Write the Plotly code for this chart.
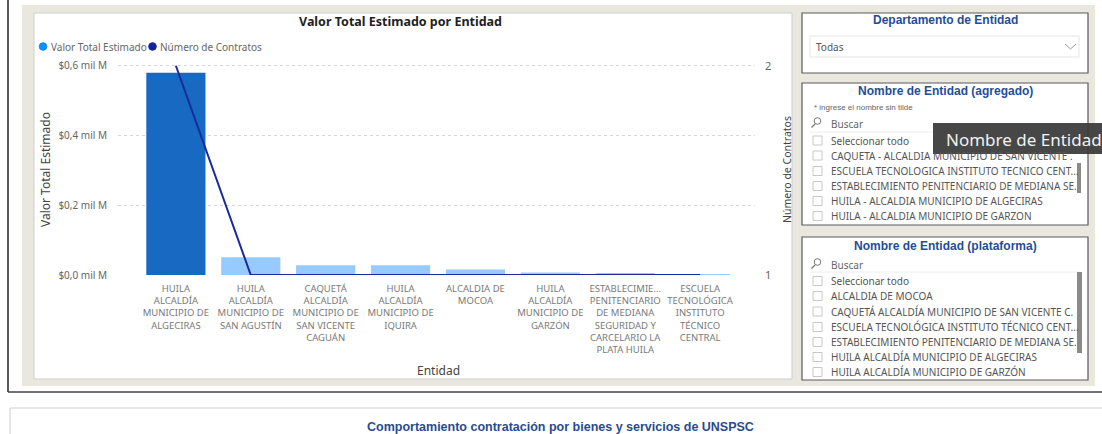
import plotly.graph_objects as go

# ---------------- data ----------------
categories = [
    "HUILA ALCALDÍA MUNICIPIO DE ALGECIRAS",
    "HUILA ALCALDÍA MUNICIPIO DE SAN AGUSTÍN",
    "CAQUETÁ ALCALDÍA MUNICIPIO DE SAN VICENTE CAGUÁN",
    "HUILA ALCALDÍA MUNICIPIO DE IQUIRA",
    "ALCALDIA DE MOCOA",
    "HUILA ALCALDÍA MUNICIPIO DE GARZÓN",
    "ESTABLECIMIENTO PENITENCIARIO DE MEDIANA SEGURIDAD Y CARCELARIO LA PLATA HUILA",
    "ESCUELA TECNOLÓGICA INSTITUTO TÉCNICO CENTRAL",
]
tick_labels = [
    "HUILA<br>ALCALDÍA<br>MUNICIPIO DE<br>ALGECIRAS",
    "HUILA<br>ALCALDÍA<br>MUNICIPIO DE<br>SAN AGUSTÍN",
    "CAQUETÁ<br>ALCALDÍA<br>MUNICIPIO DE<br>SAN VICENTE<br>CAGUÁN",
    "HUILA<br>ALCALDÍA<br>MUNICIPIO DE<br>IQUIRA",
    "ALCALDIA DE<br>MOCOA",
    "HUILA<br>ALCALDÍA<br>MUNICIPIO DE<br>GARZÓN",
    "ESTABLECIMIE...<br>PENITENCIARIO<br>DE MEDIANA<br>SEGURIDAD Y<br>CARCELARIO LA<br>PLATA HUILA",
    "ESCUELA<br>TECNOLÓGICA<br>INSTITUTO<br>TÉCNICO<br>CENTRAL",
]
# Valor total estimado, in millions of pesos
valor_total = [580, 51, 28, 28, 16, 7, 4, 2]
num_contratos = [2, 1, 1, 1, 1, 1, 1, 1]

y_ticks = [0, 200, 400, 600]
y_tick_text = ["$0,0 mil M", "$0,2 mil M", "$0,4 mil M", "$0,6 mil M"]

slicer_agregado = [
    "Seleccionar todo",
    "CAQUETA - ALCALDIA MUNICIPIO DE SAN VICENTE .",
    "ESCUELA TECNOLOGICA INSTITUTO TECNICO CENT...",
    "ESTABLECIMIENTO PENITENCIARIO DE MEDIANA SE.",
    "HUILA - ALCALDIA MUNICIPIO DE ALGECIRAS",
    "HUILA - ALCALDIA MUNICIPIO DE GARZON",
]
slicer_plataforma = [
    "Seleccionar todo",
    "ALCALDIA DE MOCOA",
    "CAQUETÁ ALCALDÍA MUNICIPIO DE SAN VICENTE C.",
    "ESCUELA TECNOLÓGICA INSTITUTO TÉCNICO CENT...",
    "ESTABLECIMIENTO PENITENCIARIO DE MEDIANA SE.",
    "HUILA ALCALDÍA MUNICIPIO DE ALGECIRAS",
    "HUILA ALCALDÍA MUNICIPIO DE GARZÓN",
]

# ---------------- layout geometry (pixels) ----------------
W, H = 1102, 434
L, R, T, B = 118, 755, 64, 275


def px(x):
    return (x - L) / (R - L)


def py(y):
    return (B - y) / (B - T)


FONT = "Segoe UI, Noto Sans, Open Sans, sans-serif"
ARIAL = "Liberation Sans, Arial, sans-serif"

bar_colors = ["#1769C1"] + ["#97CBFF"] * (len(categories) - 1)

fig = go.Figure()
fig.add_trace(go.Bar(
    x=categories, y=valor_total, name="Valor Total Estimado",
    marker=dict(color=bar_colors, line=dict(width=0)), width=0.79,
    showlegend=False,
))
fig.add_trace(go.Scatter(
    x=categories, y=num_contratos, name="Número de Contratos", yaxis="y2",
    mode="lines", line=dict(color="#1A2A9C", width=2), showlegend=False,
))

ymax = 605
fig.update_layout(
    width=W, height=H,
    margin=dict(l=L, r=W - R, t=T, b=H - B, pad=0),
    paper_bgcolor="white", plot_bgcolor="rgba(0,0,0,0)",
    bargap=0.2,
    xaxis=dict(
        range=[-0.773, 7.733], tickmode="array", tickvals=categories,
        ticktext=tick_labels, tickangle=0, showgrid=False, zeroline=False,
        showline=False, ticks="", ticklabelstandoff=6,
        tickfont=dict(family=FONT, size=9.5, color="#7A7A7A"),
    ),
    yaxis=dict(
        range=[0, ymax], tickvals=y_ticks, ticktext=y_tick_text,
        showgrid=True, gridcolor="#D6D6D6", griddash="dot", gridwidth=1,
        zeroline=False, showline=False, ticks="", ticklabelstandoff=10,
        tickfont=dict(family=FONT, size=10, color="#666666"),
    ),
    yaxis2=dict(
        overlaying="y", side="right", range=[1, 1 + ymax / 600],
        tickvals=[1, 2], ticktext=["1", "2"], showgrid=False,
        zeroline=False, showline=False, ticks="", ticklabelstandoff=9,
        tickfont=dict(family=FONT, size=11, color="#666666"),
    ),
)

shapes = []
ann = []


def rect(x0, y0, x1, y1, fill="rgba(0,0,0,0)", line="rgba(0,0,0,0)", lw=1, layer="below", opacity=1):
    shapes.append(dict(type="rect", xref="paper", yref="paper",
                       x0=px(x0), x1=px(x1), y0=py(y0), y1=py(y1),
                       fillcolor=fill, line=dict(color=line, width=lw),
                       layer=layer, opacity=opacity))


def line(x0, y0, x1, y1, color, lw=1, layer="below"):
    shapes.append(dict(type="line", xref="paper", yref="paper",
                       x0=px(x0), x1=px(x1), y0=py(y0), y1=py(y1),
                       line=dict(color=color, width=lw), layer=layer))


def circle(cx, cy, r, fill, line_color=None, layer="below"):
    shapes.append(dict(type="circle", xref="paper", yref="paper",
                       x0=px(cx - r), x1=px(cx + r), y0=py(cy + r), y1=py(cy - r),
                       fillcolor=fill, line=dict(color=line_color or fill, width=1),
                       layer=layer))


def text(x, y, s, size=11, color="#333", family=FONT, xanchor="left", bold=False, angle=0):
    if bold:
        s = "<b>" + s + "</b>"
    ann.append(dict(xref="paper", yref="paper", x=px(x), y=py(y), text=s,
                    showarrow=False, xanchor=xanchor, yanchor="middle",
                    textangle=angle,
                    font=dict(size=size, color=color, family=family)))


# page frame
line(8, 0, 8, 392, "#222", 1.5)
line(8, 392, W, 392, "#444", 1.5)
rect(22, 5, 1095, 386, fill="#EAE7DE")
# chart card
rect(34, 13, 792, 379, fill="white", line="#CFCFCF", lw=1)
# slicer cards
rect(802, 13, 1088, 73, fill="white", line="#5A5A5A", lw=1.2)
rect(810, 36, 1079, 57, fill="white", line="#E6E6E6", lw=1)
rect(802, 83, 1088, 225, fill="white", line="#5A5A5A", lw=1.2)
rect(802, 237, 1088, 380, fill="white", line="#5A5A5A", lw=1.2)
# bottom box
rect(10, 408, 1110, 445, fill="white", line="#D0D0D0", lw=1)

# chevron in dropdown
shapes.append(dict(type="path", xref="paper", yref="paper",
                   path=f"M {px(1065)},{py(44)} L {px(1070.5)},{py(49)} L {px(1076)},{py(44)}",
                   line=dict(color="#9A9A9A", width=1), layer="below"))

# chart title & axis titles
text(400, 22, "Valor Total Estimado por Entidad", 12.5, "#222", bold=True, xanchor="center")
text(45, 170, "Valor Total Estimado", 12, "#444", xanchor="center", angle=-90)
text(787, 170, "Número de Contratos", 10.5, "#444", xanchor="center", angle=-90)
text(438, 370, "Entidad", 12, "#444", xanchor="center")

# legend
circle(43, 46.5, 3.8, "#118DFF")
text(48.5, 46.5, "Valor Total Estimado", 10, "#666")
circle(152.5, 46.5, 3.8, "#12239E")
text(158, 46.5, "Número de Contratos", 10, "#666")

BLUE = "#1F4E96"
# slicer 1
text(945, 20, "Departamento de Entidad", 12, BLUE, family=ARIAL, xanchor="center", bold=True)
text(814, 47, "Todas", 10, "#555")

# slicer 2
text(945, 91, "Nombre de Entidad (agregado)", 12, BLUE, family=ARIAL, xanchor="center", bold=True)
text(812, 107, "* ingrese el nombre sin tilde", 8, "#666", family=ARIAL)
circle(817.5, 121, 3.3, "rgba(0,0,0,0)", "#777")
line(815, 124, 811.5, 127.5, "#777", 1.2)
text(829, 123.5, "Buscar", 10, "#666")
line(810, 132, 1080, 132, "#EEEEEE", 1)
ys2 = [140.5, 155.5, 171, 186, 201, 216]
for yy, s in zip(ys2, slicer_agregado):
    rect(813, yy - 4.5, 822, yy + 4.5, fill="white", line="#C8C8C8", lw=1)
    text(829, yy, s, 10, "#555")
rect(1077, 163, 1081, 193, fill="#8A8A8A")

# slicer 3
text(945, 246, "Nombre de Entidad (plataforma)", 12, BLUE, family=ARIAL, xanchor="center", bold=True)
circle(817.5, 262, 3.3, "rgba(0,0,0,0)", "#777")
line(815, 265, 811.5, 268.5, "#777", 1.2)
text(829, 264.5, "Buscar", 10, "#666")
line(810, 272, 1080, 272, "#EEEEEE", 1)
ys3 = [281, 296, 311.5, 327, 342, 357, 372]
for yy, s in zip(ys3, slicer_plataforma):
    rect(813, yy - 4.5, 822, yy + 4.5, fill="white", line="#C8C8C8", lw=1)
    text(829, yy, s, 10, "#555")
rect(1077, 272, 1082, 353, fill="#8A8A8A")

# tooltip overlay
rect(933, 123, 1110, 154, fill="#3A3A3A", layer="above", opacity=0.93)
text(944, 139, "Nombre de Entidad", 17, "#F2F2F2")

# bottom title
text(560, 427, "Comportamiento contratación por bienes y servicios de UNSPSC", 12.5,
     "#2A4B8D", family="Liberation Sans Narrow, Arial Narrow, Liberation Sans, sans-serif",
     xanchor="center", bold=True)

fig.update_layout(shapes=shapes, annotations=ann)
fig.write_html(
    "out.html",
    config={"displayModeBar": False},
    post_script="document.body.style.margin='0';document.body.style.padding='0';document.body.style.overflow='hidden';",
)
